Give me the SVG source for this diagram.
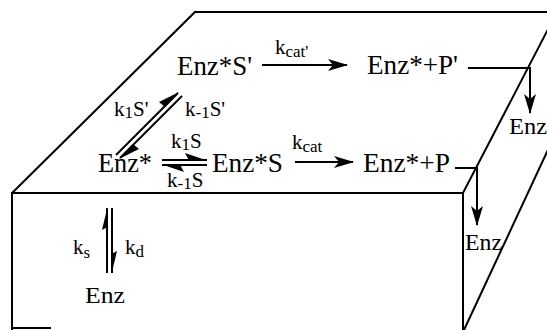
<svg xmlns="http://www.w3.org/2000/svg" width="547" height="330" viewBox="0 0 547 330">
<defs>
<style>
.edge{stroke:#000;stroke-width:2;fill:none;stroke-linecap:square}
.ln{stroke:#000;stroke-width:2;fill:none}
.sp{font-size:27px;fill:#000}
.en{font-size:24px;fill:#000}
.k{font-size:21px;fill:#000}
.sub{font-size:17px}
.head{fill:#000;stroke:none}
</style>
<marker id="ah" viewBox="0 0 20 12" refX="19" refY="6" markerWidth="20" markerHeight="12" markerUnits="userSpaceOnUse" orient="auto">
<path d="M0,0 L20,6 L0,12 L5,6 Z" class="head"/>
</marker>
</defs>
<rect width="547" height="330" fill="#fff"/>
<g id="box">
<path class="edge" d="M195,12 L560,12"/>
<path class="edge" d="M195,12 L12,193"/>
<path class="edge" d="M12,193 L463,193"/>
<path class="edge" d="M12,193 L12,329"/>
<path class="edge" d="M12,328 L50,328"/>
<path class="edge" d="M463,193 L463,330"/>
<path class="edge" d="M463,193 L558,10"/>
<path class="edge" d="M464,330 L560,124"/>
</g>
<g id="connectors">
<path class="ln" d="M262,65 L347,65" marker-end="url(#ah)"/>
<path class="ln" d="M295,162 L353,162" marker-end="url(#ah)"/>
<path class="ln" d="M468,68 L530,68 L530,113" marker-end="url(#ah)"/>
<path class="ln" d="M455,168 L477,168 L477,225" marker-end="url(#ah)"/>
<path class="ln" d="M162,160 L207,160"/>
<path class="head" d="M207,160.5 L185,153 L189,160.5 Z"/>
<path class="ln" d="M162,165 L207,165"/>
<path class="head" d="M162,164.5 L184,172 L180,164.5 Z"/>
<path class="ln" d="M116,155 L178,93"/>
<path class="head" d="M179,92 L159,102 L165,107 Z"/>
<path class="ln" d="M120,158 L182,96"/>
<path class="head" d="M119,159 L139,149 L133,144 Z"/>
<path class="ln" d="M107,208 L107,273"/>
<path class="head" d="M107.5,207 L102,230 L107.5,227 Z"/>
<path class="ln" d="M112,208 L112,273"/>
<path class="head" d="M111.5,274 L117,251 L111.5,254 Z"/>
</g>
<g font-family="'Liberation Serif', 'DejaVu Serif', serif">
<g id="n_enzS2">
<text class="sp" x="177" y="75" textLength="75" lengthAdjust="spacingAndGlyphs">Enz*S'</text>
</g>
<g id="n_enzP2">
<text class="sp" x="367" y="74" textLength="91" lengthAdjust="spacingAndGlyphs">Enz*+P'</text>
</g>
<g id="n_enzstar">
<text class="sp" x="98" y="172" textLength="54" lengthAdjust="spacingAndGlyphs">Enz*</text>
</g>
<g id="n_enzS">
<text class="sp" x="212" y="172" textLength="71" lengthAdjust="spacingAndGlyphs">Enz*S</text>
</g>
<g id="n_enzP">
<text class="sp" x="363" y="172" textLength="87" lengthAdjust="spacingAndGlyphs">Enz*+P</text>
</g>
<g id="n_enz_top">
<text class="en" x="509" y="134" textLength="38" lengthAdjust="spacingAndGlyphs">Enz</text>
</g>
<g id="n_enz_mid">
<text class="en" x="465" y="250" textLength="37" lengthAdjust="spacingAndGlyphs">Enz</text>
</g>
<g id="n_enz_front">
<text class="en" x="85" y="303" textLength="40" lengthAdjust="spacingAndGlyphs">Enz</text>
</g>
<g id="labels">
<text class="k" x="275" y="54">k<tspan class="sub" dy="3">cat'</tspan></text>
<text class="k" x="292" y="149">k<tspan class="sub" dy="3">cat</tspan></text>
<text class="k" x="114" y="116">k<tspan class="sub" dy="2">1</tspan><tspan dy="-2">S'</tspan></text>
<text class="k" x="185" y="116">k<tspan class="sub" dy="2">-1</tspan><tspan dy="-2">S'</tspan></text>
<text class="k" x="171" y="148">k<tspan class="sub" dy="2">1</tspan><tspan dy="-2">S</tspan></text>
<text class="k" x="167" y="187">k<tspan class="sub" dy="2">-1</tspan><tspan dy="-2">S</tspan></text>
<text class="k" x="73" y="254">k<tspan class="sub" dy="4">s</tspan></text>
<text class="k" x="125" y="254">k<tspan class="sub" dy="3">d</tspan></text>
</g>
</g>
</svg>
